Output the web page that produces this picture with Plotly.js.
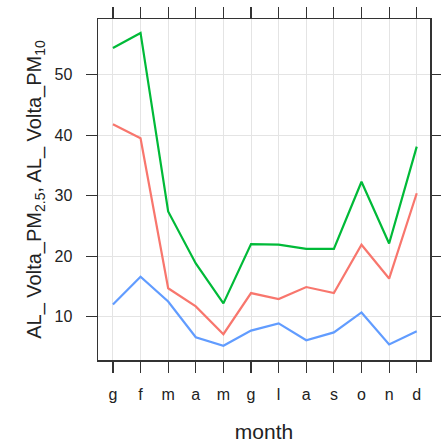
<!DOCTYPE html>
<html><head><meta charset="utf-8">
<script src="https://cdn.plot.ly/plotly-3.0.1.min.js"></script>
<style>html,body{margin:0;padding:0;background:#fff}#c{width:441px;height:443px}</style>
</head><body><div id="c"></div>
<script>
const months = ["g","f","m","a","m","g","l","a","s","o","n","d"];
const pm10 = [54.4, 56.9, 27.4, 18.8, 12.2, 22.0, 21.9, 21.2, 21.2, 32.3, 22.1, 38.1];
const pm25 = [41.8, 39.5, 14.7, 11.7, 7.1, 13.9, 12.9, 14.9, 13.9, 21.9, 16.3, 30.4];
const pmOther = [12.0, 16.6, 12.5, 6.6, 5.2, 7.7, 8.9, 6.1, 7.4, 10.7, 5.4, 7.6];
const yTicks = [10, 20, 30, 40, 50];

const idx = months.map((_, i) => i);
function tr(y, color) {
  return {x: idx, y: y, type: 'scatter', mode: 'lines',
    line: {color: color, width: 2.2}, hoverinfo: 'none', showlegend: false};
}
const data = [tr(pmOther, '#619CFF'), tr(pm25, '#F8766D'), tr(pm10, '#00BA38')];

const fam = 'Liberation Sans, Arial, sans-serif';
const fontTick = {family: fam, size: 16, color: '#222'};
const layout = {
  width: 441, height: 443,
  margin: {l: 98, r: 11, t: 19, b: 83},
  paper_bgcolor: '#fff', plot_bgcolor: '#fff',
  xaxis: {
    range: [-0.54, 11.48], tickmode: 'array', tickvals: idx, ticktext: months,
    showgrid: true, gridcolor: '#e4e4e4', gridwidth: 1, zeroline: false,
    showline: true, linecolor: '#333', linewidth: 1.5, mirror: 'ticks',
    ticks: 'outside', ticklen: 11, tickcolor: '#333', tickwidth: 1.2,
    ticklabelstandoff: 8, tickfont: fontTick,
    title: {text: 'month', font: {family: fam, size: 21, color: '#222'}, standoff: 22}
  },
  yaxis: {
    range: [2.84, 59.2], tickmode: 'array', tickvals: yTicks, ticktext: yTicks.map(String),
    showgrid: true, gridcolor: '#e4e4e4', gridwidth: 1, zeroline: false,
    showline: true, linecolor: '#333', linewidth: 1.5, mirror: 'ticks',
    ticks: 'outside', ticklen: 11, tickcolor: '#333', tickwidth: 1.2,
    ticklabelstandoff: 10, tickfont: fontTick,
    title: {text: 'AL_ Volta_PM<sub>2.5</sub>, AL_ Volta_PM<sub>10</sub>',
      font: {family: fam, size: 20, color: '#222'}, standoff: 7}
  }
};
Plotly.newPlot('c', data, layout, {staticPlot: true, displayModeBar: false});
</script></body></html>
